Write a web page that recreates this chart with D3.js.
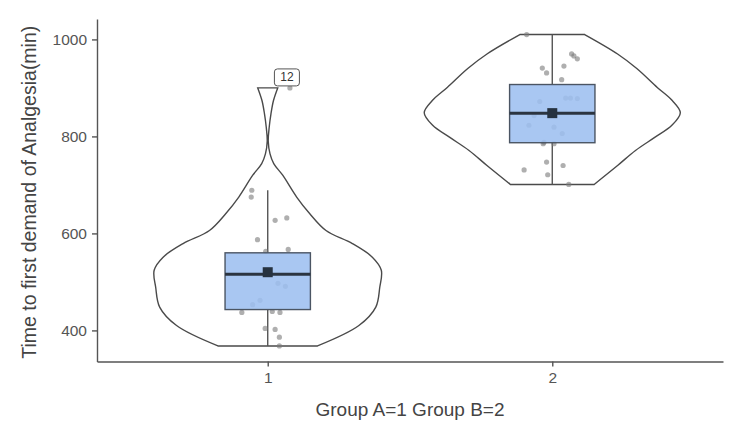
<!DOCTYPE html>
<html>
<head>
<meta charset="utf-8">
<script src="https://cdn.jsdelivr.net/npm/d3@7"></script>
<style>
  body { margin: 0; background: #fff; }
  svg { display: block; font-family: "Liberation Sans", Arial, sans-serif; }
</style>
</head>
<body>
<svg id="chart" width="750" height="433"></svg>
<script>
// groups on the x axis
const groups = ['1', '2'];
const yTicks = [400, 600, 800, 1000];

const g1Values = [900, 689, 675, 632, 627, 587, 563, 567, 497, 491, 462, 453, 437, 439, 437, 404, 402, 386, 368];
const g1Jitter = [0.078, -0.056, -0.058, 0.067, 0.026, -0.036, -0.007, 0.072, 0.036, 0.062, -0.027, -0.053, -0.091, 0.016, 0.043, -0.009, 0.026, 0.041, 0.041];
const g2Values = [1010, 970, 966, 960, 945, 941, 931, 917, 879, 879, 878, 872, 843, 823, 819, 806, 788, 785, 785, 747, 740, 731, 721, 701];
const g2Jitter = [-0.090, 0.068, 0.076, 0.088, 0.041, -0.035, -0.020, 0.033, 0.047, 0.064, 0.088, -0.044, -0.064, -0.082, 0.006, 0.035, -0.029, -0.032, 0.006, -0.020, 0.038, -0.099, -0.016, 0.058];

// violin outlines: [value, relative density]
const g1Density = [[368, 0.389], [410, 0.712], [448, 0.844], [489, 0.875], [524, 0.887], [551, 0.817], [579, 0.661], [606, 0.455], [641, 0.327], [675, 0.226], [720, 0.117], [744, 0.047], [764, 0.018], [790, 0.004], [820, 0.012], [846, 0.025], [874, 0.045], [900, 0.078]];
const g2Density = [[701, 0.327], [740, 0.51], [771, 0.65], [798, 0.80], [823, 0.934], [849, 1.0], [874, 0.937], [901, 0.82], [940, 0.66], [970, 0.51], [1010, 0.253]];

// box plot stats per group
const q1 = [443, 787];
const medians = [516, 848];
const q3 = [560, 907];
const whiskerLow = [368, 701];
const whiskerHigh = [689, 1010];
const means = [520, 848];

// labelled outlier
const labelText = '12';
const labelGroup = 0;
const labelIndex = 0;

const values = [g1Values, g2Values];
const jitters = [g1Jitter, g2Jitter];
const densities = [g1Density, g2Density];

const svg = d3.select('#chart');
const mLeft = 97, mRight = 723, mTop = 19, mBottom = 361.5;

const x = d3.scalePoint().domain(groups).range([mLeft, mRight]).padding(0.6);
const all = g1Values.concat(g2Values);
const [lo, hi] = d3.extent(all);
const pad = (hi - lo) * 0.05;
const y = d3.scaleLinear().domain([lo - pad, hi + pad]).range([mBottom, mTop]);
const step = x.step();

// violins
groups.forEach((g, i) => {
    const cx = x(g);
    const area = d3.area()
        .y(d => y(d[0]))
        .x0(d => cx - d[1] * 0.45 * step)
        .x1(d => cx + d[1] * 0.45 * step)
        .curve(d3.curveCatmullRom.alpha(0.5));
    svg.append('path')
        .attr('d', area(densities[i]))
        .attr('fill', 'none')
        .attr('stroke', '#4a4a4a')
        .attr('stroke-width', 1.4);
});

// whiskers (outside the box only)
groups.forEach((g, i) => {
    const cx = x(g);
    [[q3[i], whiskerHigh[i]], [whiskerLow[i], q1[i]]].forEach(([a, b]) => {
        svg.append('line')
            .attr('x1', cx).attr('x2', cx)
            .attr('y1', y(a)).attr('y2', y(b))
            .attr('stroke', '#555').attr('stroke-width', 1.4);
    });
});

// jittered points
groups.forEach((g, i) => {
    svg.append('g').selectAll('circle')
        .data(values[i])
        .join('circle')
        .attr('cx', (d, k) => x(g) + jitters[i][k] * step)
        .attr('cy', d => y(d))
        .attr('r', 2.6)
        .attr('fill', '#7a7a7a')
        .attr('fill-opacity', 0.6);
});

// boxes
groups.forEach((g, i) => {
    const cx = x(g);
    const hw = 0.15 * step;
    svg.append('rect')
        .attr('x', cx - hw)
        .attr('y', y(q3[i]))
        .attr('width', hw * 2)
        .attr('height', y(q1[i]) - y(q3[i]))
        .attr('fill', '#9dbff0')
        .attr('fill-opacity', 0.88)
        .attr('stroke', '#4b5563')
        .attr('stroke-width', 1.4);
    svg.append('line')
        .attr('x1', cx - hw).attr('x2', cx + hw)
        .attr('y1', y(medians[i])).attr('y2', y(medians[i]))
        .attr('stroke', '#2b3440').attr('stroke-width', 3);
    svg.append('rect')
        .attr('x', cx - 5).attr('y', y(means[i]) - 5)
        .attr('width', 10).attr('height', 10)
        .attr('fill', '#263240');
});

// outlier label
const lx = x(groups[labelGroup]) + jitters[labelGroup][labelIndex] * step - 3;
const ly = y(values[labelGroup][labelIndex]) - 2;
const lab = svg.append('g').attr('transform', `translate(${lx},${ly})`);
lab.append('rect')
    .attr('x', -12.5).attr('y', -17)
    .attr('width', 25).attr('height', 17)
    .attr('rx', 3)
    .attr('fill', '#fff')
    .attr('stroke', '#555')
    .attr('stroke-width', 1);
lab.append('text')
    .attr('x', 0).attr('y', -4.5)
    .attr('text-anchor', 'middle')
    .attr('font-size', 12)
    .attr('fill', '#333')
    .text(labelText);

// axes
const yAxis = svg.append('g')
    .attr('transform', `translate(${mLeft},0)`)
    .call(d3.axisLeft(y).tickValues(yTicks).tickFormat(d3.format('d'))
        .tickSize(5).tickSizeOuter(0).tickPadding(5));
const xAxis = svg.append('g')
    .attr('transform', `translate(0,${mBottom})`)
    .call(d3.axisBottom(x).tickSize(5).tickSizeOuter(0).tickPadding(5));

[yAxis, xAxis].forEach(a => {
    a.select('.domain').attr('stroke', '#555').attr('stroke-width', 1.4);
    a.selectAll('.tick line').attr('stroke', '#555').attr('stroke-width', 1.4);
    a.selectAll('.tick text')
        .attr('fill', '#555')
        .attr('font-size', 15.5)
        .attr('font-family', '"Liberation Sans", Arial, sans-serif');
});

// axis titles
svg.append('text')
    .attr('transform', `translate(36,${(mTop + mBottom) / 2 + 2}) rotate(-90)`)
    .attr('text-anchor', 'middle')
    .attr('font-size', 19.5)
    .attr('fill', '#444')
    .text('Time to first demand of Analgesia(min)');

svg.append('text')
    .attr('x', 410)
    .attr('y', 416)
    .attr('text-anchor', 'middle')
    .attr('font-size', 19)
    .attr('fill', '#444')
    .text('Group A=1 Group B=2');
</script>
</body>
</html>
